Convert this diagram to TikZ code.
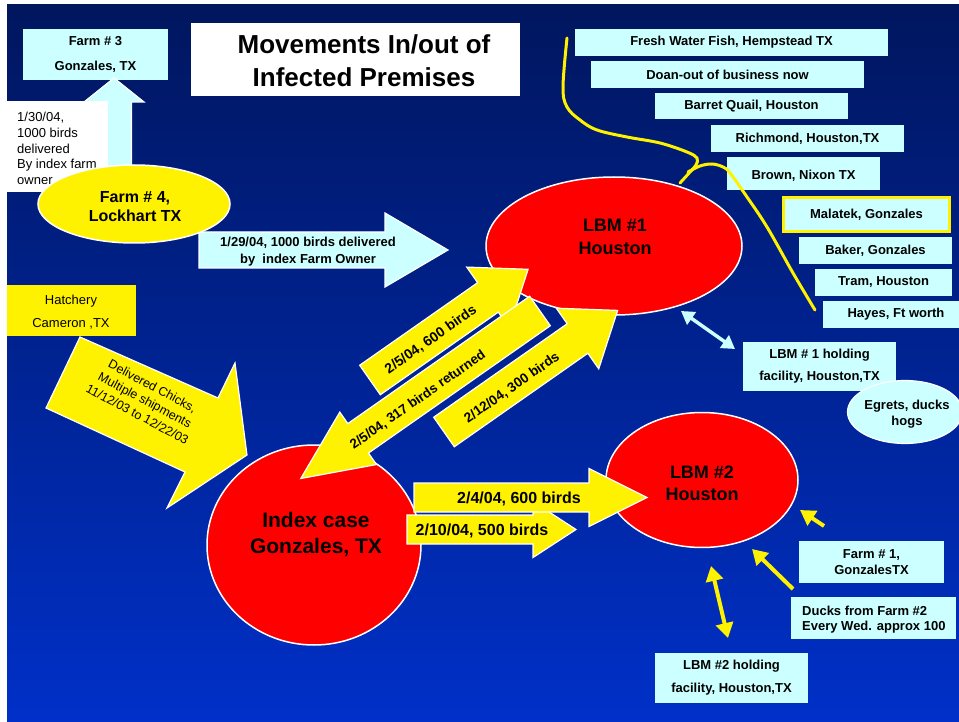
\documentclass[tikz,border=0pt]{standalone}
\usepackage{fontspec}
\setmainfont{Liberation Sans}
\usetikzlibrary{shapes.geometric,arrows.meta}
\definecolor{cyanbox}{RGB}{204,255,255}
\definecolor{bgtop}{RGB}{0,22,94}
\definecolor{bgmid}{RGB}{0,38,165}
\definecolor{bgbot}{RGB}{0,48,200}
% #1 style, #2 #3 tail centre, #4 angle, #5 shaft length, #6 shaft half width, #7 head half width, #8 head length
\newcommand{\fatarrow}[8]{%
  \begin{scope}[shift={(#2,#3)},rotate=#4]
    \path[#1] (0,-#6) -- (#5,-#6) -- (#5,-#7) -- ({#5+#8},0) -- (#5,#7) -- (#5,#6) -- (0,#6) -- cycle;
  \end{scope}}
\begin{document}
\begin{tikzpicture}[x=1pt,y=-1pt,
  every node/.style={inner sep=0pt, text=black},
  cbox/.style={fill=cyanbox, align=center, font=\fontsize{13}{15.6}\selectfont\bfseries},
  yshape/.style={fill=yellow, draw=white, line width=1.2pt},
  cshape/.style={fill=cyanbox, draw=white, line width=1.2pt},
  bigell/.style={ellipse, fill=red, draw=white, line width=1.5pt},
  bigtxt/.style={align=center, font=\fontsize{18}{23}\selectfont\bfseries},
  diagtxt/.style={font=\fontsize{14}{16}\selectfont\bfseries, rotate=35},
  yline/.style={draw=yellow, line width=3pt, line cap=round, line join=round},
  yarrow/.style={draw=yellow, line width=4pt, -{Triangle[length=15pt,width=17pt]}},
  ydarrow/.style={draw=yellow, line width=4pt, {Triangle[length=15pt,width=17pt]}-{Triangle[length=15pt,width=17pt]}},
  cdarrow/.style={draw=cyanbox, line width=3.5pt, {Triangle[length=13pt,width=15pt]}-{Triangle[length=13pt,width=15pt]}},
]
\useasboundingbox (0,0) rectangle (959,722);
\fill[white] (0,0) rectangle (959,722);
\shade[top color=bgtop, middle color=bgmid, bottom color=bgbot] (7,5) rectangle (959,722);

% title
\node[fill=white, minimum width=329pt, minimum height=73pt] (titlebox) at (355.5,59.5) {};
\node[align=center, font=\fontsize{26}{33}\selectfont\bfseries] (title) at (364,61) {Movements In/out of\\Infected Premises};

% Farm 3
\node[cbox, minimum width=145pt, minimum height=51pt, font=\fontsize{13}{25}\selectfont\bfseries] (farm3) at (95.5,54.5) {Farm \# 3\\Gonzales, TX};

% up arrow farm4 -> farm3
\fatarrow{cshape}{114}{178}{90}{76}{17.5}{30}{24}

% white note
\node[fill=white, minimum width=101pt, minimum height=91pt] (notebox) at (57.5,146.5) {};
\node[anchor=north west, align=left, font=\fontsize{13}{15.7}\selectfont] (note) at (17,112) {1/30/04,\\1000 birds\\delivered\\By index farm\\owner};

% 1/29 arrow
\fatarrow{cshape}{199}{250}{0}{186}{18}{37}{63}
\node[align=center, font=\fontsize{13}{17}\selectfont\bfseries] (t129) at (308,252) {1/29/04, 1000 birds delivered\\by\ \ index Farm Owner};

% Farm 4
\node[ellipse, fill=yellow, draw=white, line width=1.5pt, minimum width=192pt, minimum height=78pt] (farm4) at (134,204) {};
\node[align=center, font=\fontsize{16}{19}\selectfont\bfseries] (farm4t) at (135,207) {Farm \# 4,\\Lockhart TX};

% Hatchery
\node[fill=yellow, minimum width=129pt, minimum height=51pt] (hatch) at (71.5,310.5) {};
\node[align=center, font=\fontsize{13}{23}\selectfont] (hatcht) at (71,312) {Hatchery\\Cameron ,TX};

% chicks arrow
\path[yshape] (80,337) -- (218,398) -- (235,363) -- (247,455) -- (167,508) -- (185,472) -- (46,408) -- cycle;
\node[align=center, rotate=-28, font=\fontsize{12.5}{16}\selectfont] (chicks) at (145,400) {Delivered Chicks,\\Multiple shipments\\11/12/03 to 12/22/03};

% premises
\node[bigell, minimum width=214pt, minimum height=200pt] (index) at (314,545) {};
\node[bigell, minimum width=256pt, minimum height=138pt] (lbm1) at (614,246) {};
\node[bigell, minimum width=192pt, minimum height=135pt] (lbm2) at (702,480) {};

% diagonal arrows
\fatarrow{yshape}{370}{380}{35}{144}{18}{37}{49}
\node[diagtxt] (t600) at (431,340) {2/5/04, 600 birds};
\fatarrow{yshape}{540}{311}{215}{222}{18}{32}{70}
\node[diagtxt, font=\fontsize{13.4}{16}\selectfont\bfseries] (t317) at (418,400) {2/5/04, 317 birds returned};
\fatarrow{yshape}{444}{432}{35}{163}{18}{37}{49}
\node[diagtxt, font=\fontsize{13.6}{16}\selectfont\bfseries] (t300) at (512,388) {2/12/04, 300 birds};

% horizontal arrows
\fatarrow{yshape}{407}{529.5}{0}{126}{14.5}{28}{43}
\node[font=\fontsize{16}{18}\selectfont\bfseries] (t210) at (482,531) {2/10/04, 500 birds};
\fatarrow{yshape}{414}{497.5}{0}{175}{14.5}{29}{58}
\node[font=\fontsize{16}{18}\selectfont\bfseries] (t204) at (519,499) {2/4/04, 600 birds};

% premise texts
\node[align=center, font=\fontsize{21}{26}\selectfont\bfseries] (indext) at (316,535) {Index case\\Gonzales, TX};
\node[bigtxt] (lbm1t) at (615,237) {LBM \#1\\Houston};
\node[bigtxt, font=\fontsize{18}{22}\selectfont\bfseries] (lbm2t) at (702,483) {LBM \#2\\Houston};

% right-hand list
\node[cbox, minimum width=313pt, minimum height=27pt] (fresh) at (731.5,42.5) {Fresh Water Fish, Hempstead TX};
\node[cbox, minimum width=273pt, minimum height=27pt] (doan) at (727.5,74.5) {Doan-out of business now};
\node[cbox, minimum width=193pt, minimum height=26pt] (barret) at (751.5,106) {Barret Quail, Houston};
\node[cbox, minimum width=193pt, minimum height=27pt] (richmond) at (807.5,138.5) {Richmond, Houston,TX};
\node[cbox, minimum width=153pt, minimum height=33pt, text depth=0pt] (brown) at (803.5,173.5) {\raisebox{-3pt}{Brown, Nixon TX}};
\node[cbox, draw=yellow, line width=3pt, minimum width=166pt, minimum height=34pt] (malatek) at (866.5,214.5) {\raisebox{-4pt}{Malatek, Gonzales}};
\node[cbox, minimum width=153pt, minimum height=27pt] (baker) at (875.5,250.5) {Baker, Gonzales};
\node[cbox, minimum width=137pt, minimum height=27pt] (tram) at (883.5,282.5) {Tram, Houston};
\node[cbox, minimum width=146pt, minimum height=27pt] (hayes) at (896,314.5) {Hayes, Ft worth};

% hand-drawn yellow line
\draw[yline] plot[smooth, tension=0.6] coordinates {(567,38) (563,87) (567,107) (580,120) (597,130) (627,137) (660,143) (687,152) (697,158) (696,165) (690,172) (680,183)};
\draw[yline] plot[smooth, tension=0.6] coordinates {(688,172) (700,166) (712,164) (723,167) (730,173) (747,197) (767,227) (793,273) (815,310)};

% LBM1 holding
\node[cbox, minimum width=153pt, minimum height=49pt, font=\fontsize{13}{22}\selectfont\bfseries] (hold1) at (819.5,366.5) {LBM \# 1 holding\\facility, Houston,TX};
\coordinate (c1a) at (681,311);
\coordinate (c1b) at (735,349);
\draw[cdarrow] (c1a) -- (c1b);
\node[ellipse, fill=cyanbox, draw=white, line width=1.2pt, minimum width=115pt, minimum height=63pt] (egrets) at (905,412) {};
\node[align=center, font=\fontsize{13}{16}\selectfont\bfseries] (egretst) at (907,414) {Egrets, ducks\\hogs};

% LBM2 side
\node[cbox, minimum width=145pt, minimum height=42pt, font=\fontsize{13}{15.5}\selectfont\bfseries] (farm1) at (871.5,562) {Farm \# 1,\\GonzalesTX};
\node[fill=cyanbox, minimum width=165pt, minimum height=42pt] (ducks) at (873.5,618) {};
\node[anchor=west, align=left, font=\fontsize{13}{15.7}\selectfont\bfseries] (duckst) at (802,619.5) {Ducks from Farm \#2\\Every Wed. approx 100};
\node[cbox, minimum width=153pt, minimum height=50pt, font=\fontsize{13}{23}\selectfont\bfseries] (hold2) at (731.5,678) {LBM \#2 holding\\facility, Houston,TX};

\coordinate (ya) at (824,526);
\coordinate (yb) at (800,510);
\draw[yarrow] (ya) -- (yb);
\coordinate (yc) at (793,589);
\coordinate (yd) at (752,549);
\draw[yarrow] (yc) -- (yd);
\coordinate (ye) at (711,566);
\coordinate (yf) at (728,638);
\draw[ydarrow] (ye) -- (yf);
\end{tikzpicture}
\end{document}
